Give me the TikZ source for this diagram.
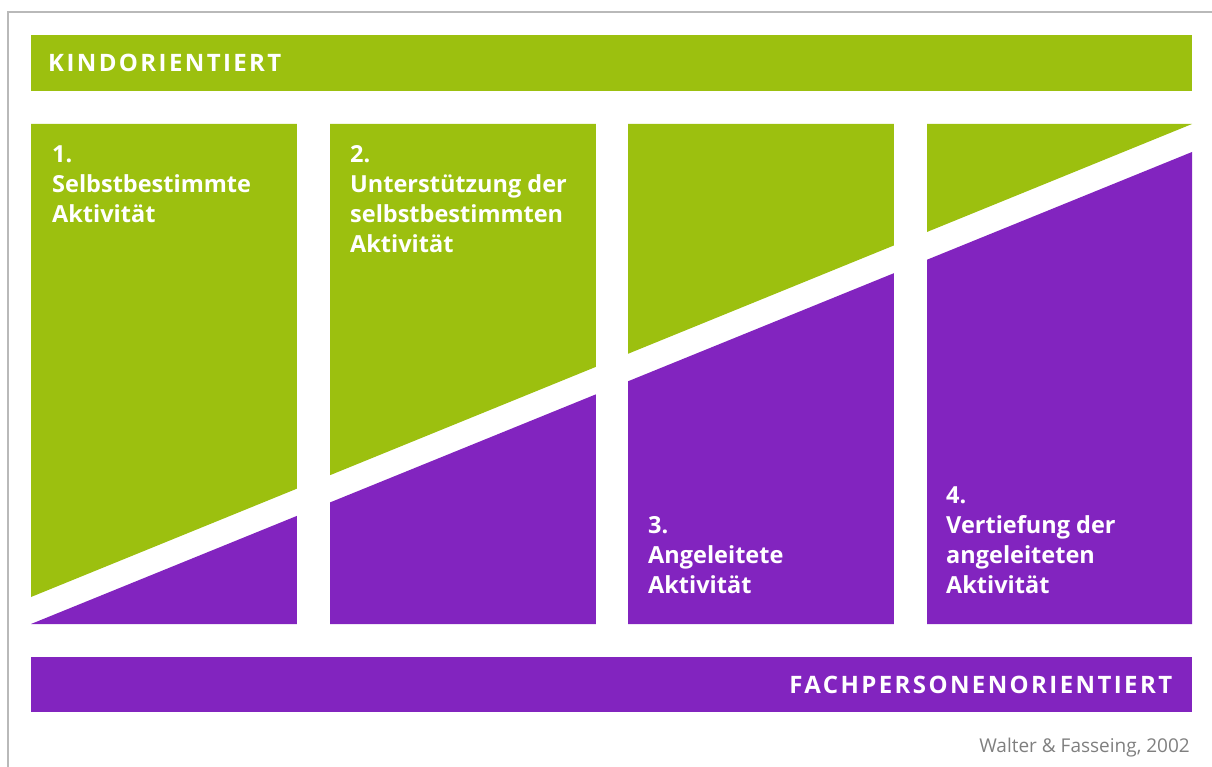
\documentclass[tikz,border=0pt]{standalone}
\usepackage{fontspec}
\setmainfont{Open Sans}
\usetikzlibrary{positioning, calc}
\usepackage{xcolor}
\tikzstyle{bar} = [%
  rectangle,
  minimum width=1161pt,
  minimum height=56pt,
  inner sep=0pt,
  anchor=north west
]
\tikzstyle{colnote} = [%
  anchor=base west,
  inner sep=0pt,
  align=left,
  text=white,
  font=\bfseries\fontsize{23.5}{30}\selectfont
]
\definecolor{kiGreen}{HTML}{9CC00F}
\definecolor{fpPurple}{HTML}{8224BF}
\definecolor{refGray}{HTML}{7F7F7F}

\begin{document}
\begin{tikzpicture}[%
  x=1pt, y=-1pt,
  captxt/.style={%
    inner sep=0pt,
    text=white,
    font=\bfseries\fontsize{24}{24}\selectfont\addfontfeatures{LetterSpace=10}
  },
  source/.style={%
    inner sep=0pt,
    text=refGray,
    font=\fontsize{19}{19}\selectfont
  }
]
  \useasboundingbox (0,0) rectangle (1212,767);

  % Frame
  \draw[gray!55,line width=1.5pt] (8,767) |- (1212,12);

  % Bars
  \node[bar,fill=kiGreen] (kind) at (31,35) {};
  \node[bar,fill=fpPurple,minimum height=55pt] (fach) at (31,657) {};
  \node[captxt,anchor=west] (kindtxt) at ([xshift=17pt]kind.west) {KINDORIENTIERT};
  \node[captxt,anchor=east] (fachtxt) at ([xshift=-20pt]fach.east) {FACHPERSONENORIENTIERT};

  % Columns
  \fill[kiGreen] (31,124) -- (1192,124) -- (31,597) -- cycle;
  \fill[fpPurple] (31,624) -- (1192,624) -- (1192,152) -- cycle;
  \foreach \gx/\gw in {297/33, 596/32, 894/33}
    \fill[white] (\gx,120) rectangle ++(\gw,508);

  % Notes (base = last line)
  \node[colnote] (n1) at (52,223) {1.\\Selbstbestimmte\\Aktivität};
  \node[colnote] (n2) at (350,253) {2.\\Unterstützung der\\selbstbestimmten\\Aktivität};
  \node[colnote] (n3) at (648,593) {3.\\Angeleitete\\Aktivität};
  \node[colnote] (n4) at (946,593) {4.\\Vertiefung der\\angeleiteten\\Aktivität};

  % Source
  \node[source,anchor=base east] (src) at (1190,752) {Walter \& Fasseing, 2002};

\end{tikzpicture}
\end{document}
